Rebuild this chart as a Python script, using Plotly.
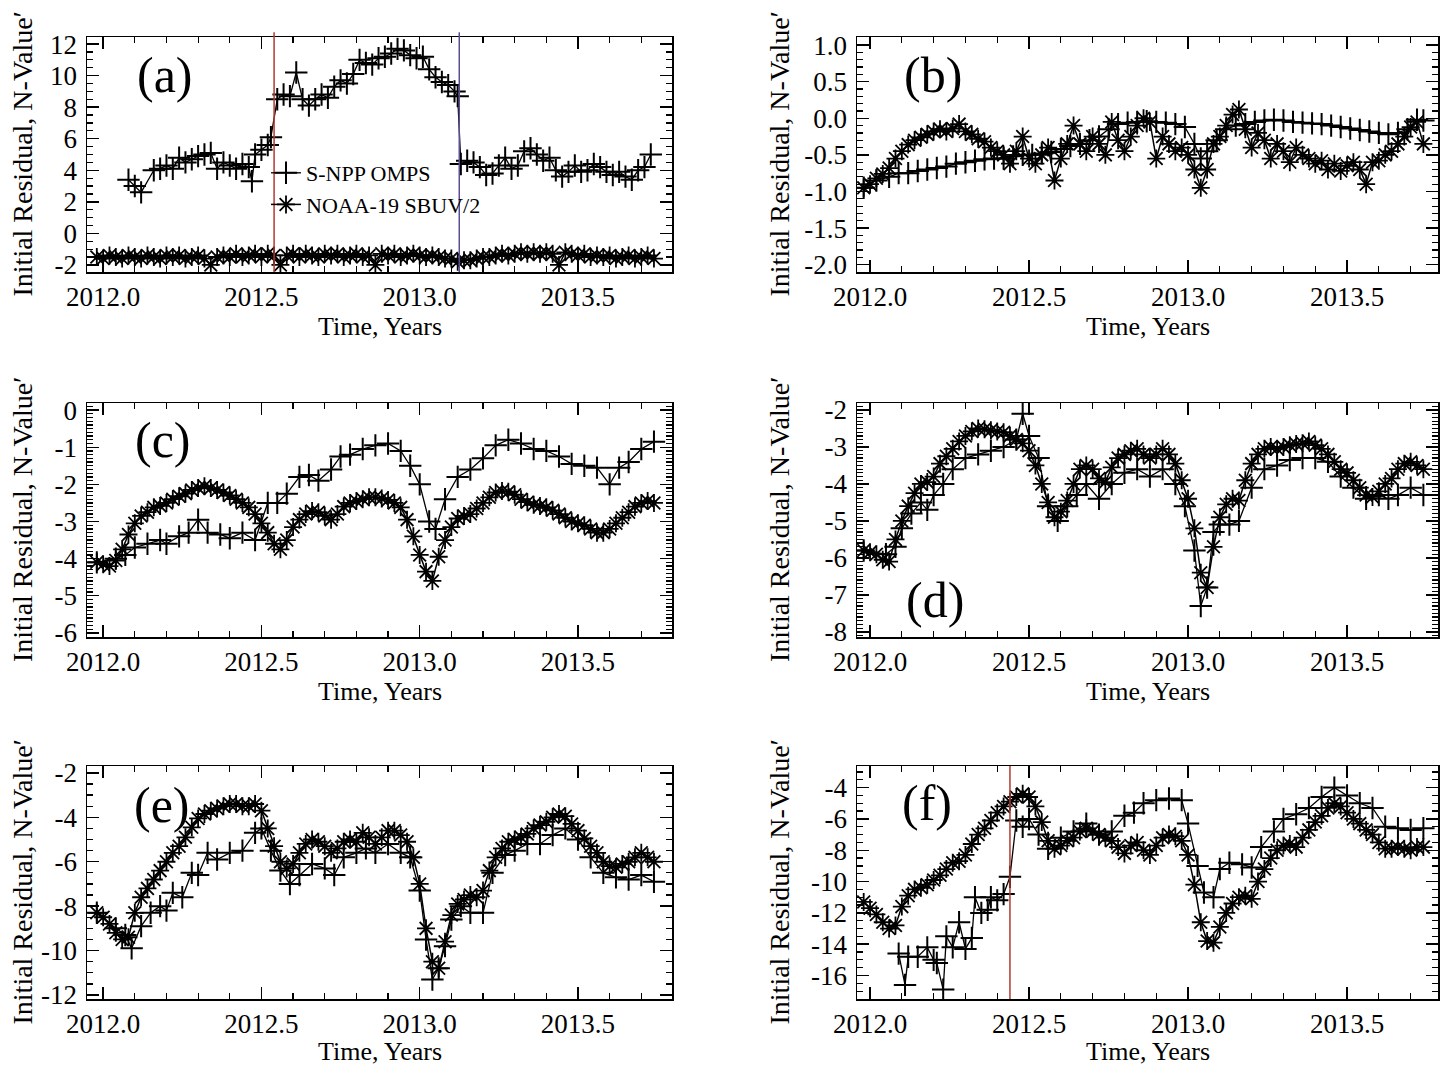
import plotly.graph_objects as go

FONT = "Liberation Serif"

# ---------------- tick labels ----------------
X_TICKS = [2012.0, 2012.5, 2013.0, 2013.5]
X_TICK_TEXT = ["2012.0", "2012.5", "2013.0", "2013.5"]

A_Y_TICKS = [-2, 0, 2, 4, 6, 8, 10, 12]
A_Y_TEXT = ["-2", "0", "2", "4", "6", "8", "10", "12"]
B_Y_TICKS = [-2.0, -1.5, -1.0, -0.5, 0.0, 0.5, 1.0]
B_Y_TEXT = ["-2.0", "-1.5", "-1.0", "-0.5", "0.0", "0.5", "1.0"]
C_Y_TICKS = [-6, -5, -4, -3, -2, -1, 0]
C_Y_TEXT = ["-6", "-5", "-4", "-3", "-2", "-1", "0"]
D_Y_TICKS = [-8, -7, -6, -5, -4, -3, -2]
D_Y_TEXT = ["-8", "-7", "-6", "-5", "-4", "-3", "-2"]
E_Y_TICKS = [-12, -10, -8, -6, -4, -2]
E_Y_TEXT = ["-12", "-10", "-8", "-6", "-4", "-2"]
F_Y_TICKS = [-16, -14, -12, -10, -8, -6, -4]
F_Y_TEXT = ["-16", "-14", "-12", "-10", "-8", "-6", "-4"]

SERIES_NAMES = ["S-NPP OMPS", "NOAA-19 SBUV/2"]
PANEL_LABELS = ["(a)", "(b)", "(c)", "(d)", "(e)", "(f)"]
Y_TITLE = "Initial Residual, N-Value\u2032"
X_TITLE = "Time, Years"

# shared SBUV/2 sampling times (years)
SBUV_T = [2011.98, 2012.00, 2012.02, 2012.04, 2012.06, 2012.08, 2012.10, 2012.12, 2012.14, 2012.16,
          2012.18, 2012.20, 2012.22, 2012.24, 2012.26, 2012.28, 2012.30, 2012.32, 2012.34, 2012.36,
          2012.38, 2012.40, 2012.42, 2012.44, 2012.46, 2012.48, 2012.50, 2012.52, 2012.54, 2012.56,
          2012.58, 2012.60, 2012.62, 2012.64, 2012.66, 2012.68, 2012.70, 2012.72, 2012.74, 2012.76,
          2012.78, 2012.80, 2012.82, 2012.84, 2012.86, 2012.88, 2012.90, 2012.92, 2012.94, 2012.96,
          2012.98, 2013.00, 2013.02, 2013.04, 2013.06, 2013.08, 2013.10, 2013.12, 2013.14, 2013.16,
          2013.18, 2013.20, 2013.22, 2013.24, 2013.26, 2013.28, 2013.30, 2013.32, 2013.34, 2013.36,
          2013.38, 2013.40, 2013.42, 2013.44, 2013.46, 2013.48, 2013.50, 2013.52, 2013.54, 2013.56,
          2013.58, 2013.60, 2013.62, 2013.64, 2013.66, 2013.68, 2013.70, 2013.72, 2013.74]

# ---------------- panel (a) ----------------
A_OMPS_T = [2012.08, 2012.10, 2012.12, 2012.16, 2012.18, 2012.20, 2012.22, 2012.24, 2012.26, 2012.28,
            2012.30, 2012.32, 2012.34, 2012.36, 2012.38, 2012.40, 2012.42, 2012.44, 2012.46, 2012.47,
            2012.48, 2012.50, 2012.52, 2012.53, 2012.55, 2012.57, 2012.59, 2012.61, 2012.63, 2012.65,
            2012.67, 2012.69, 2012.71, 2012.73, 2012.75, 2012.77, 2012.79, 2012.81, 2012.83, 2012.85,
            2012.87, 2012.89, 2012.91, 2012.93, 2012.95, 2012.97, 2012.99, 2013.01, 2013.03, 2013.05,
            2013.07, 2013.09, 2013.11, 2013.12, 2013.13, 2013.15, 2013.17, 2013.19, 2013.21, 2013.23,
            2013.25, 2013.27, 2013.29, 2013.31, 2013.33, 2013.35, 2013.37, 2013.39, 2013.41, 2013.43,
            2013.45, 2013.47, 2013.49, 2013.51, 2013.53, 2013.55, 2013.57, 2013.59, 2013.61, 2013.63,
            2013.65, 2013.67, 2013.69, 2013.71, 2013.73]
A_OMPS_V = [3.4, 3.0, 2.6, 4.0, 4.1, 4.3, 4.1, 4.8, 4.5, 4.7,
            4.9, 5.0, 5.1, 4.1, 4.5, 4.3, 4.1, 4.4, 4.2, 3.3,
            5.0, 5.3, 5.6, 6.1, 8.5, 8.8, 8.7, 10.2, 8.5, 8.1,
            8.5, 8.8, 8.6, 9.3, 9.7, 9.5, 10.1, 11.0, 10.8, 10.7,
            11.1, 11.2, 11.4, 11.7, 11.6, 11.3, 11.1, 11.2, 10.4, 9.9,
            9.6, 9.4, 9.0, 8.7, 4.4, 4.6, 4.5, 4.2, 3.7, 3.8,
            4.3, 4.8, 4.1, 4.3, 5.2, 5.4, 5.0, 4.6, 4.8, 4.0,
            3.6, 3.9, 4.3, 3.9, 4.0, 4.4, 4.2, 3.9, 3.7, 3.9,
            3.6, 3.4, 4.0, 4.2, 5.0]
A_SBUV_V = [-1.5, -1.6, -1.4, -1.5, -1.6, -1.4, -1.5, -1.6, -1.4, -1.5,
            -1.6, -1.4, -1.5, -1.4, -1.6, -1.5, -1.4, -1.6, -2.0, -1.5,
            -1.4, -1.5, -1.3, -1.5, -1.4, -1.3, -1.5, -1.3, -1.4, -2.0,
            -1.4, -1.3, -1.5, -1.3, -1.4, -1.5, -1.3, -1.4, -1.3, -1.5,
            -1.4, -1.3, -1.5, -1.4, -2.0, -1.3, -1.4, -1.3, -1.5, -1.4,
            -1.3, -1.4, -1.5, -1.4, -1.5, -1.6, -1.6, -1.8, -1.7, -1.7,
            -1.6, -1.5, -1.5, -1.4, -1.3, -1.4, -1.3, -1.2, -1.3, -1.2,
            -1.3, -1.2, -1.3, -2.0, -1.2, -1.3, -1.4, -1.3, -1.5, -1.4,
            -1.5, -1.4, -1.6, -1.5, -1.4, -1.6, -1.5, -1.4, -1.6]

# ---------------- panel (b) ----------------
B_OMPS_T = [2011.98, 2012.02, 2012.06, 2012.09, 2012.12, 2012.15, 2012.18, 2012.21, 2012.24, 2012.27,
            2012.30, 2012.33, 2012.36, 2012.39, 2012.42, 2012.45, 2012.48, 2012.51, 2012.54, 2012.57,
            2012.60, 2012.63, 2012.66, 2012.69, 2012.72, 2012.75, 2012.78, 2012.81, 2012.84, 2012.87,
            2012.90, 2012.93, 2012.96, 2012.99, 2013.02, 2013.04, 2013.06, 2013.09, 2013.12, 2013.15,
            2013.18, 2013.21, 2013.24, 2013.27, 2013.30, 2013.33, 2013.36, 2013.39, 2013.42, 2013.45,
            2013.48, 2013.51, 2013.54, 2013.57, 2013.60, 2013.63, 2013.66, 2013.69, 2013.72, 2013.74]
B_OMPS_V = [-0.95, -0.85, -0.80, -0.75, -0.75, -0.72, -0.70, -0.68, -0.66, -0.62,
            -0.60, -0.58, -0.56, -0.55, -0.55, -0.52, -0.50, -0.50, -0.48, -0.46,
            -0.42, -0.38, -0.35, -0.30, -0.25, -0.15, -0.08, -0.06, -0.05, -0.04,
            -0.05, -0.06, -0.08, -0.12, -0.35, -0.55, -0.45, -0.30, -0.15, -0.10,
            -0.08, -0.05, -0.03, -0.02, -0.03, -0.05, -0.06, -0.07, -0.08, -0.10,
            -0.12, -0.14, -0.16, -0.18, -0.20, -0.22, -0.20, -0.15, -0.02, -0.03]
B_SBUV_V = [-0.95, -0.90, -0.82, -0.76, -0.68, -0.55, -0.45, -0.36, -0.30, -0.26,
            -0.22, -0.18, -0.15, -0.18, -0.14, -0.08, -0.18, -0.22, -0.28, -0.32,
            -0.40, -0.45, -0.50, -0.62, -0.45, -0.25, -0.55, -0.62, -0.50, -0.40,
            -0.85, -0.55, -0.35, -0.10, -0.35, -0.45, -0.25, -0.35, -0.50, -0.05,
            -0.30, -0.45, -0.25, -0.10, 0.00, -0.05, -0.55, -0.25, -0.35, -0.45,
            -0.40, -0.50, -0.70, -0.95, -0.70, -0.35, -0.25, -0.10, 0.05, 0.12,
            -0.15, -0.40, -0.20, -0.30, -0.55, -0.35, -0.45, -0.60, -0.40, -0.50,
            -0.55, -0.62, -0.58, -0.70, -0.62, -0.72, -0.65, -0.60, -0.70, -0.90,
            -0.60, -0.58, -0.50, -0.45, -0.35, -0.25, -0.12, -0.05, -0.35]

# ---------------- panel (c) ----------------
C_OMPS_T = [2011.98, 2012.04, 2012.07, 2012.10, 2012.14, 2012.18, 2012.20, 2012.24, 2012.27, 2012.30,
            2012.33, 2012.37, 2012.40, 2012.44, 2012.48, 2012.52, 2012.55, 2012.58, 2012.62, 2012.65,
            2012.68, 2012.72, 2012.75, 2012.78, 2012.82, 2012.86, 2012.90, 2012.94, 2012.97, 2013.00,
            2013.03, 2013.05, 2013.08, 2013.12, 2013.16, 2013.20, 2013.24, 2013.28, 2013.32, 2013.36,
            2013.40, 2013.44, 2013.48, 2013.52, 2013.56, 2013.60, 2013.63, 2013.66, 2013.70, 2013.74]
C_OMPS_V = [-4.10, -4.00, -3.90, -3.70, -3.60, -3.50, -3.60, -3.40, -3.30, -2.95,
            -3.30, -3.35, -3.45, -3.30, -3.50, -2.50, -2.50, -2.25, -1.80, -1.75,
            -1.90, -1.60, -1.25, -1.20, -1.05, -0.95, -0.90, -1.10, -1.50, -2.00,
            -3.00, -3.20, -2.40, -1.80, -1.60, -1.30, -0.95, -0.80, -0.90, -1.05,
            -1.10, -1.25, -1.45, -1.50, -1.55, -2.00, -1.55, -1.40, -1.05, -0.85]
C_SBUV_V = [-4.10, -4.15, -4.20, -4.05, -3.75, -3.35, -3.05, -2.85, -2.75, -2.62,
            -2.58, -2.50, -2.40, -2.32, -2.25, -2.15, -2.10, -2.05, -2.10, -2.15,
            -2.22, -2.30, -2.40, -2.50, -2.62, -2.80, -3.05, -3.30, -3.60, -3.75,
            -3.50, -3.15, -2.95, -2.80, -2.72, -2.75, -2.85, -2.95, -2.80, -2.60,
            -2.50, -2.45, -2.40, -2.35, -2.35, -2.38, -2.42, -2.50, -2.62, -2.95,
            -3.40, -3.90, -4.35, -4.60, -3.95, -3.50, -3.15, -2.92, -2.85, -2.80,
            -2.65, -2.50, -2.35, -2.22, -2.18, -2.20, -2.28, -2.40, -2.48, -2.55,
            -2.58, -2.62, -2.70, -2.80, -2.90, -3.00, -3.05, -3.10, -3.20, -3.30,
            -3.30, -3.20, -3.05, -2.90, -2.75, -2.60, -2.50, -2.45, -2.50]

# ---------------- panel (d) ----------------
D_OMPS_T = [2011.98, 2012.05, 2012.08, 2012.10, 2012.13, 2012.16, 2012.18, 2012.20, 2012.23, 2012.26,
            2012.30, 2012.34, 2012.38, 2012.42, 2012.46, 2012.48, 2012.50, 2012.53, 2012.56, 2012.59,
            2012.62, 2012.65, 2012.68, 2012.72, 2012.76, 2012.80, 2012.84, 2012.88, 2012.92, 2012.96,
            2012.99, 2013.02, 2013.04, 2013.06, 2013.08, 2013.10, 2013.13, 2013.16, 2013.20, 2013.24,
            2013.28, 2013.32, 2013.36, 2013.40, 2013.44, 2013.48, 2013.52, 2013.56, 2013.60, 2013.63,
            2013.66, 2013.70, 2013.74]
D_OMPS_V = [-5.8, -5.9, -5.7, -5.2, -4.8, -4.5, -4.7, -4.3, -4.0, -3.6,
            -3.3, -3.2, -3.1, -3.0, -2.8, -2.1, -2.7, -3.3, -4.6, -5.0,
            -4.6, -4.3, -4.0, -4.4, -4.0, -3.7, -3.6, -3.8, -3.6, -4.0,
            -4.6, -5.8, -7.3, -6.8, -5.3, -5.1, -5.1, -5.0, -4.1, -3.6,
            -3.5, -3.35, -3.3, -3.3, -3.4, -3.8, -4.1, -4.4, -4.3, -4.4,
            -4.3, -4.1, -4.3]
D_SBUV_V = [-5.80, -5.85, -5.90, -6.05, -6.10, -5.50, -5.00, -4.60, -4.25, -4.00,
            -3.95, -3.80, -3.45, -3.25, -3.05, -2.85, -2.70, -2.58, -2.50, -2.52,
            -2.55, -2.58, -2.60, -2.70, -2.80, -2.90, -3.10, -3.50, -4.00, -4.50,
            -4.90, -4.75, -4.45, -4.00, -3.60, -3.50, -3.60, -3.85, -3.95, -3.55,
            -3.30, -3.20, -3.10, -3.05, -3.20, -3.30, -3.20, -3.05, -3.20, -3.45,
            -3.90, -4.40, -5.20, -6.40, -6.80, -5.70, -4.90, -4.55, -4.40, -4.45,
            -3.90, -3.45, -3.20, -3.05, -3.00, -3.05, -3.00, -2.95, -2.92, -2.90,
            -2.85, -2.95, -3.05, -3.20, -3.40, -3.60, -3.70, -3.90, -4.10, -4.30,
            -4.35, -4.20, -4.00, -3.85, -3.60, -3.45, -3.40, -3.50, -3.60]

# ---------------- panel (e) ----------------
E_OMPS_T = [2011.98, 2012.04, 2012.07, 2012.09, 2012.12, 2012.15, 2012.18, 2012.20, 2012.22, 2012.25,
            2012.28, 2012.30, 2012.33, 2012.36, 2012.40, 2012.44, 2012.48, 2012.50, 2012.53, 2012.56,
            2012.59, 2012.62, 2012.66, 2012.70, 2012.73, 2012.76, 2012.80, 2012.83, 2012.86, 2012.90,
            2012.94, 2012.97, 2013.00, 2013.02, 2013.04, 2013.06, 2013.08, 2013.10, 2013.13, 2013.16,
            2013.20, 2013.23, 2013.27, 2013.30, 2013.34, 2013.38, 2013.42, 2013.46, 2013.50, 2013.54,
            2013.58, 2013.62, 2013.66, 2013.70, 2013.74]
E_OMPS_V = [-8.3, -9.0, -9.3, -9.9, -8.9, -8.3, -8.0, -8.2, -7.4, -7.6,
            -6.5, -6.6, -5.6, -5.9, -5.6, -5.5, -4.7, -4.5, -5.5, -6.4,
            -7.0, -6.6, -6.1, -6.3, -6.6, -5.8, -5.6, -5.4, -5.6, -5.2,
            -5.6, -5.8, -7.3, -9.5, -11.3, -10.8, -9.8, -8.6, -8.0, -8.3,
            -8.3, -6.5, -5.7, -5.5, -5.2, -5.2, -4.8, -4.5, -5.0, -5.8,
            -6.5, -6.7, -6.8, -6.6, -6.9]
E_SBUV_V = [-8.30, -8.50, -8.80, -9.20, -9.50, -9.40, -8.30, -7.60, -7.20, -6.80,
            -6.40, -6.00, -5.60, -5.30, -4.90, -4.45, -4.05, -3.85, -3.70, -3.60,
            -3.50, -3.40, -3.40, -3.50, -3.50, -3.40, -3.70, -4.50, -5.30, -6.00,
            -6.30, -6.10, -5.60, -5.20, -5.00, -5.10, -5.30, -5.60, -5.40, -5.10,
            -5.00, -5.10, -4.70, -4.90, -5.20, -4.90, -4.60, -4.60, -4.80, -5.10,
            -5.80, -7.00, -9.00, -10.50, -10.80, -9.60, -8.40, -7.90, -7.70, -7.50,
            -7.60, -7.30, -6.40, -5.80, -5.40, -5.10, -5.00, -4.90, -4.75, -4.50,
            -4.35, -4.20, -4.00, -3.85, -3.95, -4.30, -4.60, -4.95, -5.30, -5.60,
            -6.00, -6.20, -6.25, -6.10, -6.00, -5.80, -5.60, -5.80, -6.00]

# ---------------- panel (f) ----------------
F_OMPS_T = [2012.09, 2012.11, 2012.12, 2012.15, 2012.18, 2012.20, 2012.21, 2012.23, 2012.24, 2012.26,
            2012.28, 2012.30, 2012.32, 2012.33, 2012.35, 2012.37, 2012.38, 2012.40, 2012.42, 2012.44,
            2012.46, 2012.48, 2012.50, 2012.53, 2012.56, 2012.60, 2012.64, 2012.68, 2012.72, 2012.76,
            2012.80, 2012.83, 2012.86, 2012.90, 2012.94, 2012.98, 2013.00, 2013.03, 2013.05, 2013.08,
            2013.10, 2013.13, 2013.17, 2013.20, 2013.23, 2013.27, 2013.30, 2013.34, 2013.38, 2013.42,
            2013.46, 2013.50, 2013.54, 2013.58, 2013.62, 2013.66, 2013.70, 2013.74]
F_OMPS_V = [-14.6, -16.6, -14.8, -14.8, -14.2, -15.0, -15.2, -16.9, -13.5, -14.2,
            -12.6, -14.3, -13.6, -11.0, -12.0, -11.8, -11.0, -11.2, -10.8, -9.7,
            -6.1, -6.5, -6.0, -7.0, -7.9, -7.2, -6.8, -6.3, -7.0, -6.8,
            -5.8, -5.6, -5.0, -4.8, -4.7, -4.8, -6.3, -9.0, -10.7, -11.0,
            -9.2, -8.8, -8.9, -9.1, -7.8, -6.8, -6.0, -5.7, -5.3, -4.6,
            -4.0, -4.5, -5.0, -5.3, -6.5, -6.6, -6.7, -6.6]
F_SBUV_V = [-11.3, -11.7, -12.1, -12.6, -13.0, -12.8, -11.6, -10.9, -10.5, -10.4,
            -10.2, -9.9, -9.6, -9.2, -8.8, -8.7, -8.3, -7.6, -7.0, -6.6,
            -6.1, -5.6, -5.2, -4.9, -4.6, -4.4, -4.6, -5.2, -6.2, -7.4,
            -7.9, -7.7, -7.4, -7.2, -6.8, -6.6, -6.8, -7.0, -7.2, -7.4,
            -7.8, -8.2, -7.7, -7.5, -8.0, -8.3, -7.7, -7.2, -7.0, -7.1,
            -7.4, -8.3, -10.2, -12.6, -13.8, -13.9, -12.9, -12.0, -11.4, -11.0,
            -10.9, -11.1, -10.0, -9.2, -8.5, -8.0, -7.7, -7.6, -7.8, -7.2,
            -6.7, -6.2, -5.8, -5.3, -5.0, -5.2, -5.6, -6.0, -6.3, -6.7,
            -7.0, -7.5, -7.9, -7.9, -7.8, -7.9, -8.0, -7.8, -7.8]

# vertical event markers (years)
A_RED_LINE = 2012.54
A_BLUE_LINE = 2013.125
F_RED_LINE = 2012.44

# ---------------- layout geometry ----------------
W, H = 1440, 1068
COL_X = [(87, 672, 2011.949, 2013.797), (857, 1438, 2011.959, 2013.786)]
ROW_Y = [(37, 272), (403, 637), (766, 999)]
X_TITLE_BOTTOM = [342, 707, 1067]   # pixel y of the bottom edge of each "Time, Years" box

panels = [
    dict(omps=(A_OMPS_T, A_OMPS_V), sbuv=(SBUV_T, A_SBUV_V), yr=[-2.45, 12.45],
         yt=A_Y_TICKS, ytt=A_Y_TEXT, ymin=0.5, lab=(165, 75)),
    dict(omps=(B_OMPS_T, B_OMPS_V), sbuv=(SBUV_T, B_SBUV_V), yr=[-2.1, 1.11],
         yt=B_Y_TICKS, ytt=B_Y_TEXT, ymin=0.1, lab=(933, 75)),
    dict(omps=(C_OMPS_T, C_OMPS_V), sbuv=(SBUV_T, C_SBUV_V), yr=[-6.11, 0.19],
         yt=C_Y_TICKS, ytt=C_Y_TEXT, ymin=0.1, lab=(163, 440)),
    dict(omps=(D_OMPS_T, D_OMPS_V), sbuv=(SBUV_T, D_SBUV_V), yr=[-8.14, -1.81],
         yt=D_Y_TICKS, ytt=D_Y_TEXT, ymin=0.1, lab=(935, 600)),
    dict(omps=(E_OMPS_T, E_OMPS_V), sbuv=(SBUV_T, E_SBUV_V), yr=[-12.18, -1.69],
         yt=E_Y_TICKS, ytt=E_Y_TEXT, ymin=0.5, lab=(162, 805)),
    dict(omps=(F_OMPS_T, F_OMPS_V), sbuv=(SBUV_T, F_SBUV_V), yr=[-17.5, -2.62],
         yt=F_Y_TICKS, ytt=F_Y_TEXT, ymin=0.5, lab=(927, 803)),
]

fig = go.Figure()
annotations = []
shapes = []
TICKFONT = dict(family=FONT, size=27, color="black")

for i, p in enumerate(panels):
    col, row = i % 2, i // 2
    x0, x1, xr0, xr1 = COL_X[col]
    y0, y1 = ROW_Y[row]
    n = "" if i == 0 else str(i + 1)
    xa, ya = "x" + n, "y" + n
    common = dict(showline=True, linecolor="black", linewidth=1.5, mirror="ticks",
                  ticks="inside", ticklen=12, tickwidth=1.4, tickcolor="black", automargin=False,
                  showgrid=False, zeroline=False, tickfont=TICKFONT, fixedrange=True)
    fig.layout["xaxis" + n] = dict(
        domain=[x0 / W, x1 / W], range=[xr0, xr1], anchor=ya,
        tickmode="array", tickvals=X_TICKS, ticktext=X_TICK_TEXT, ticklabelstandoff=0,
        minor=dict(ticks="inside", ticklen=6, tickwidth=1.2, tickcolor="black", dtick=0.1, tick0=2012.0),
        **common)
    fig.layout["yaxis" + n] = dict(
        domain=[1 - y1 / H, 1 - y0 / H], range=p["yr"], anchor=xa,
        tickmode="array", tickvals=p["yt"], ticktext=p["ytt"], ticklabelstandoff=3,
        minor=dict(ticks="inside", ticklen=6, tickwidth=1.2, tickcolor="black", dtick=p["ymin"], tick0=0),
        **common)

    ot, ov = p["omps"]
    st, sv = p["sbuv"]
    fig.add_trace(go.Scatter(
        x=st, y=sv, mode="lines+markers", name=SERIES_NAMES[1], xaxis=xa, yaxis=ya,
        showlegend=(i == 0), legendrank=2,
        line=dict(color="black", width=1.5),
        marker=dict(symbol="asterisk-open", size=15, color="black",
                    line=dict(color="black", width=1.8))))
    fig.add_trace(go.Scatter(
        x=ot, y=ov, mode="lines+markers", name=SERIES_NAMES[0], xaxis=xa, yaxis=ya,
        showlegend=(i == 0), legendrank=1,
        line=dict(color="black", width=1.3),
        marker=dict(symbol="cross-thin-open", size=16, color="black",
                    line=dict(color="black", width=2))))

    # panel label
    annotations.append(dict(text=PANEL_LABELS[i], x=p["lab"][0] / W, y=1 - p["lab"][1] / H,
                            xref="paper", yref="paper", showarrow=False, xanchor="center",
                            yanchor="middle", font=dict(family=FONT, size=50, color="black")))
    # axis titles
    annotations.append(dict(text=X_TITLE, x=((x0 + x1) / 2) / W,
                            y=1 - X_TITLE_BOTTOM[row] / H, xref="paper", yref="paper",
                            showarrow=False, xanchor="center", yanchor="bottom",
                            borderpad=0, font=dict(family=FONT, size=26, color="black")))
    annotations.append(dict(text=Y_TITLE, x=(22 if col == 0 else 779) / W,
                            y=1 - ((y0 + y1) / 2) / H, xref="paper", yref="paper",
                            showarrow=False, textangle=-90, xanchor="center", yanchor="middle",
                            font=dict(family=FONT, size=28, color="black")))

shapes.append(dict(type="line", xref="x", yref="y domain", x0=A_RED_LINE, x1=A_RED_LINE,
                   y0=0, y1=1.02, line=dict(color="#b23a33", width=1.5)))
shapes.append(dict(type="line", xref="x", yref="y domain", x0=A_BLUE_LINE, x1=A_BLUE_LINE,
                   y0=0, y1=1.02, line=dict(color="#5a4c96", width=1.5)))
shapes.append(dict(type="line", xref="x6", yref="y6 domain", x0=F_RED_LINE, x1=F_RED_LINE,
                   y0=0, y1=1.0, line=dict(color="#b23a33", width=1.5)))

fig.update_layout(
    width=W, height=H, margin=dict(l=0, r=0, t=0, b=0),
    paper_bgcolor="white", plot_bgcolor="white",
    font=dict(family=FONT, color="black"),
    annotations=annotations, shapes=shapes,
    legend=dict(x=266 / W, y=1 - 152 / H, xanchor="left", yanchor="top",
                bgcolor="rgba(0,0,0,0)", font=dict(family=FONT, size=22, color="black"),
                itemwidth=30, tracegroupgap=0),
)

fig.write_html("out.html", config={"displayModeBar": False, "staticPlot": True},
               post_script="document.body.style.margin='0px';")
